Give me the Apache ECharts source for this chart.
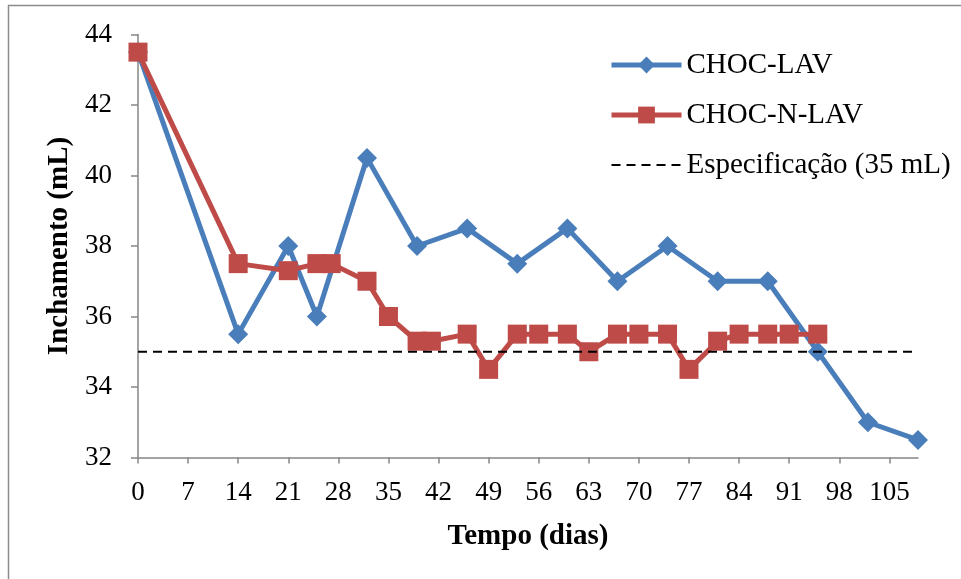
<!DOCTYPE html>
<html>
<head>
<meta charset="utf-8">
<script src="https://cdn.jsdelivr.net/npm/echarts@6/dist/echarts.min.js"></script>
<style>
  html, body { margin: 0; padding: 0; background: #ffffff; }
  #chart { width: 961px; height: 579px; }
</style>
</head>
<body>
<div id="chart"></div>
<script>
// Swelling volume (mL) over storage time (days)
const dayTicks = [0, 7, 14, 21, 28, 35, 42, 49, 56, 63, 70, 77, 84, 91, 98, 105];

const chocLavDays   = [0, 14, 21, 25, 32, 39, 46, 53, 60, 67, 74, 81, 88, 95, 102, 109];
const chocLavValues = [43.5, 35.5, 38, 36, 40.5, 38, 38.5, 37.5, 38.5, 37, 38, 37, 37, 35, 33, 32.5];

const chocNLavDays   = [0, 14, 21, 25, 27, 32, 35, 39, 41, 46, 49, 53, 56, 60, 63, 67, 70, 74, 77, 81, 84, 88, 91, 95];
const chocNLavValues = [43.5, 37.5, 37.3, 37.5, 37.5, 37, 36, 35.3, 35.3, 35.5, 34.5, 35.5, 35.5, 35.5, 35, 35.5, 35.5, 35.5, 34.5, 35.3, 35.5, 35.5, 35.5, 35.5];

const specDays  = [0, 109];
const specValue = 35;

const seriesNames = ['CHOC-LAV', 'CHOC-N-LAV', 'Especificação (35 mL)'];
const axisNames = { x: 'Tempo (dias)', y: 'Inchamento (mL)' };

const pairs = (xs, ys) => xs.map((x, i) => [x, ys[i]]);

const FONT = "'Liberation Serif', 'Times New Roman', serif";
const AXIS_GRAY = '#868686';

const chart = echarts.init(document.getElementById('chart'), null, { renderer: 'canvas' });

chart.setOption({
  backgroundColor: '#ffffff',
  animation: false,
  graphic: [{
    type: 'rect',
    shape: { x: 8.5, y: 5.5, width: 1000, height: 600 },
    style: { fill: 'none', stroke: '#8c8c8c', lineWidth: 1.5 },
    silent: true,
    z: -10
  }],
  grid: { left: 138, right: 43, top: 34.5, bottom: 121.5, containLabel: false },
  legend: {
    orient: 'vertical',
    left: 604,
    top: 45,
    itemWidth: 70,
    itemHeight: 21,
    itemGap: 20,
    textStyle: { fontFamily: FONT, fontSize: 29, color: '#000', lineHeight: 30 },
    lineStyle: { width: 'inherit' },
    data: [
      { name: seriesNames[0] },
      { name: seriesNames[1] },
      { name: seriesNames[2], itemStyle: { color: 'rgba(0,0,0,0)', borderWidth: 0 } }
    ]
  },
  xAxis: {
    type: 'value',
    min: 0,
    max: 109,
    interval: 7,
    name: axisNames.x,
    nameLocation: 'middle',
    nameGap: 65,
    nameTextStyle: { fontFamily: FONT, fontSize: 29, fontWeight: 'bold', color: '#000' },
    axisLine: { show: true, lineStyle: { color: AXIS_GRAY, width: 1.5 } },
    axisTick: { show: true, length: 6, lineStyle: { color: AXIS_GRAY, width: 1.5 }, customValues: dayTicks },
    axisLabel: { fontFamily: FONT, fontSize: 27, color: '#000', margin: 22, customValues: dayTicks },
    splitLine: { show: false }
  },
  yAxis: {
    type: 'value',
    min: 32,
    max: 44,
    interval: 2,
    name: axisNames.y,
    nameLocation: 'middle',
    nameGap: 61,
    nameRotate: 90,
    nameTextStyle: { fontFamily: FONT, fontSize: 29, fontWeight: 'bold', color: '#000' },
    axisLine: { show: true, lineStyle: { color: AXIS_GRAY, width: 1.5 } },
    axisTick: { show: true, length: 7, lineStyle: { color: AXIS_GRAY, width: 1.5 } },
    axisLabel: { fontFamily: FONT, fontSize: 27, color: '#000', margin: 26 },
    splitLine: { show: false }
  },
  series: [
    {
      name: seriesNames[0],
      type: 'line',
      data: pairs(chocLavDays, chocLavValues),
      symbol: 'diamond',
      symbolSize: 20,
      showAllSymbol: true,
      lineStyle: { color: '#4a7ebb', width: 5 },
      itemStyle: { color: '#4a7ebb' },
      z: 2
    },
    {
      name: seriesNames[1],
      type: 'line',
      data: pairs(chocNLavDays, chocNLavValues),
      symbol: 'rect',
      symbolSize: 19,
      showAllSymbol: true,
      lineStyle: { color: '#be4b48', width: 5 },
      itemStyle: { color: '#be4b48' },
      z: 3
    },
    {
      name: seriesNames[2],
      type: 'line',
      data: specDays.map(d => [d, specValue]),
      symbol: 'none',
      lineStyle: { color: '#000', width: 2, type: [9, 6] },
      itemStyle: { color: '#000' },
      z: 4
    }
  ]
});
</script>
</body>
</html>
